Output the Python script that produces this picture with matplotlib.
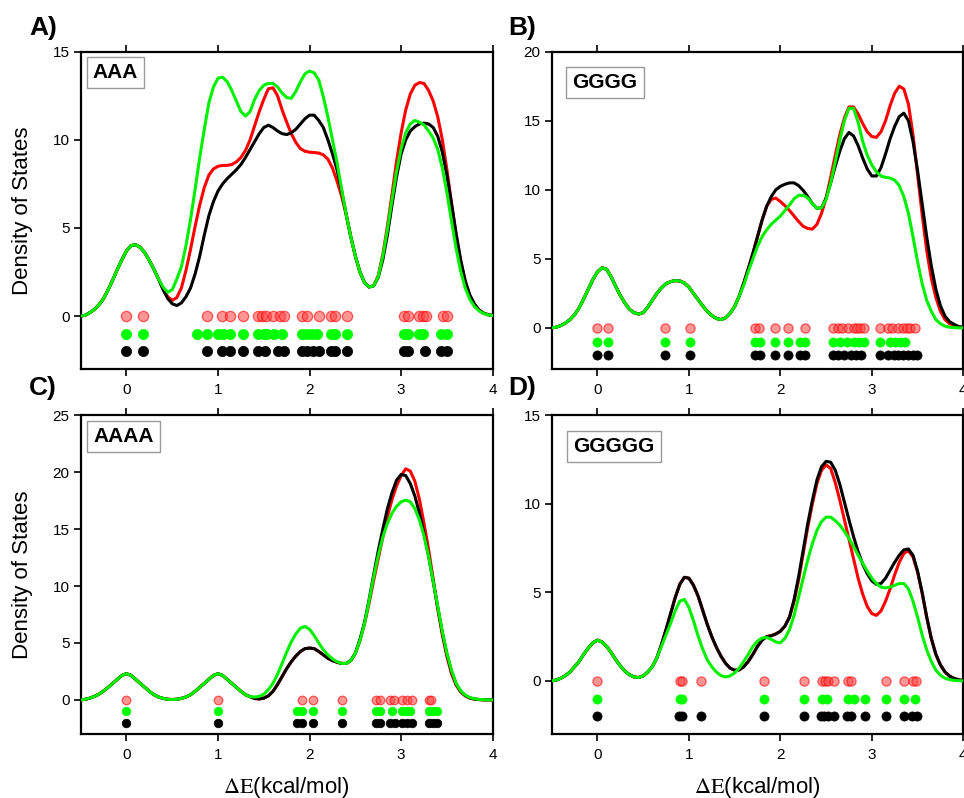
import numpy as np
import matplotlib.pyplot as plt

plt.rcParams['font.family'] = ['Liberation Sans', 'DejaVu Sans']
plt.rcParams['mathtext.fontset'] = 'stix'

# energy grid the curves were read on (kcal/mol), step 0.05
energy = np.linspace(-0.5, 4.0, 91)

# ---- A) AAA ----  (shared part -0.5 .. 0.35, then 0.4 .. 4.0)
aaa_shared = [0.0, 0.05, 0.2, 0.38, 0.65, 1.0, 1.5, 2.05, 2.65, 3.2,
              3.7, 4.0, 4.05, 3.9, 3.6, 3.15, 2.65, 2.1]
aaa_red = aaa_shared + [
    1.55, 1.1, 0.9, 1.05, 1.6, 2.6, 3.8, 5.1, 6.3, 7.3,
    8.0, 8.35, 8.5, 8.55, 8.55, 8.6, 8.75, 9.0, 9.4, 10.0,
    10.8, 11.6, 12.3, 12.9, 12.95, 12.5, 11.7, 11.0, 10.35, 9.85,
    9.5, 9.35, 9.3, 9.28, 9.25, 9.15, 8.9, 8.4, 7.65, 6.8,
    5.75, 4.5, 3.4, 2.5, 1.9, 1.65, 1.72, 2.3, 3.5, 5.1,
    6.9, 8.8, 10.4, 11.7, 12.6, 13.1, 13.25, 13.2, 12.8, 12.2,
    11.3, 10.0, 8.3, 6.4, 4.6, 3.1, 1.95, 1.15, 0.65, 0.35,
    0.17, 0.08, 0.03]
aaa_black = aaa_shared + [
    1.5, 1.0, 0.7, 0.6, 0.75, 1.1, 1.6, 2.4, 3.4, 4.6,
    5.7, 6.5, 7.1, 7.5, 7.8, 8.05, 8.3, 8.6, 9.0, 9.45,
    9.9, 10.35, 10.7, 10.83, 10.7, 10.5, 10.35, 10.3, 10.4, 10.6,
    10.9, 11.2, 11.4, 11.4, 11.1, 10.7, 10.0, 9.2, 8.3, 7.1,
    5.75, 4.5, 3.4, 2.5, 1.9, 1.65, 1.72, 2.2, 3.2, 4.6,
    6.3, 7.9, 9.2, 10.0, 10.5, 10.75, 10.9, 10.95, 10.9, 10.7,
    10.2, 9.3, 8.0, 6.4, 4.7, 3.2, 2.0, 1.2, 0.7, 0.35,
    0.17, 0.08, 0.03]
aaa_green = aaa_shared + [
    1.65, 1.35, 1.5, 2.1, 2.8, 4.0, 5.5, 7.2, 9.0, 10.6,
    12.1, 13.0, 13.5, 13.55, 13.3, 12.8, 12.2, 11.6, 11.35, 11.6,
    12.3, 12.8, 13.1, 13.2, 13.2, 13.0, 12.65, 12.4, 12.35, 12.75,
    13.3, 13.75, 13.9, 13.8, 13.4, 12.45, 11.3, 10.0, 8.7, 7.2,
    5.75, 4.5, 3.4, 2.5, 1.9, 1.65, 1.72, 2.25, 3.4, 4.9,
    6.6, 8.2, 9.5, 10.4, 10.9, 11.1, 11.0, 10.85, 10.5, 10.1,
    9.45, 8.4, 7.0, 5.4, 3.85, 2.55, 1.6, 0.95, 0.55, 0.3,
    0.15, 0.07, 0.03]
aaa_dots_red = [0.0, 0.18, 0.88, 1.04, 1.13, 1.27, 1.44, 1.48, 1.52, 1.60, 1.68, 1.72,
                1.92, 1.97, 2.10, 2.23, 2.28, 2.41, 3.03, 3.08, 3.19, 3.24, 3.27, 3.46, 3.50]
aaa_dots_green = [0.0, 0.18, 0.77, 0.88, 1.0, 1.05, 1.13, 1.27, 1.44, 1.50, 1.53, 1.61, 1.70,
                  1.92, 1.97, 2.03, 2.08, 2.23, 2.28, 2.41, 3.03, 3.08, 3.19, 3.24, 3.44, 3.50]
aaa_dots_black = [0.0, 0.18, 0.88, 1.04, 1.13, 1.27, 1.44, 1.51, 1.65, 1.72, 1.92, 1.97,
                  2.04, 2.10, 2.23, 2.28, 2.41, 3.03, 3.08, 3.26, 3.44, 3.50]

# ---- B) GGGG ----  (shared part -0.5 .. 1.55, then 1.6 .. 4.0)
gggg_shared = [0.0, 0.05, 0.17, 0.35, 0.6, 0.95, 1.45, 2.1, 2.8, 3.5,
               4.05, 4.35, 4.25, 3.7, 3.0, 2.35, 1.8, 1.35, 1.1, 1.0,
               1.1, 1.5, 2.0, 2.5, 2.9, 3.2, 3.35, 3.42, 3.4, 3.25,
               2.95, 2.5, 2.05, 1.6, 1.2, 0.9, 0.68, 0.6, 0.72, 1.05,
               1.55, 2.3]
gggg_red = gggg_shared + [
    3.25, 4.3, 5.4, 6.6, 7.8, 8.8, 9.3, 9.4, 9.15, 8.85,
    8.5, 8.1, 7.7, 7.35, 7.2, 7.15, 7.5, 8.3, 9.4, 10.9,
    12.5, 14.0, 15.2, 16.0, 16.0, 15.5, 14.8, 14.2, 13.85, 13.8,
    14.2, 15.0, 16.1, 17.0, 17.5, 17.3, 16.2, 14.0, 11.1, 8.2,
    5.6, 3.6, 2.2, 1.2, 0.6, 0.3, 0.15, 0.06, 0.02]
gggg_black = gggg_shared + [
    3.25, 4.3, 5.4, 6.6, 7.8, 8.8, 9.5, 10.0, 10.25, 10.4,
    10.5, 10.5, 10.3, 9.95, 9.5, 9.0, 8.65, 8.7, 9.4, 10.5,
    11.7, 12.8, 13.7, 14.15, 13.9, 13.2, 12.3, 11.5, 11.0, 11.0,
    11.6, 12.6, 13.7, 14.6, 15.3, 15.55, 15.0, 13.5, 11.4, 9.0,
    6.6, 4.5, 2.8, 1.6, 0.85, 0.45, 0.25, 0.1, 0.03]
gggg_green = gggg_shared + [
    3.1, 4.1, 5.0, 5.9, 6.6, 7.1, 7.5, 7.8, 8.1, 8.5,
    8.9, 9.35, 9.6, 9.6, 9.4, 9.0, 8.65, 8.7, 9.3, 10.5,
    12.0, 13.6, 15.0, 15.9, 15.9, 14.9, 13.5, 12.5, 11.8, 11.3,
    11.0, 10.9, 10.85, 10.7, 10.3, 9.5, 8.3, 6.6, 4.8, 3.2,
    2.0, 1.2, 0.6, 0.3, 0.12, 0.05, 0.02, 0.0, 0.0]
gggg_dots_red = [0.0, 0.12, 0.74, 1.01, 1.72, 1.77, 1.94, 2.08, 2.27, 2.58, 2.63, 2.67, 2.74,
                 2.80, 2.84, 2.87, 2.91, 3.09, 3.18, 3.22, 3.29, 3.34, 3.38, 3.42, 3.47]
gggg_dots_green = [0.0, 0.12, 0.74, 1.01, 1.72, 1.78, 1.94, 2.08, 2.22, 2.27, 2.58, 2.65, 2.73,
                   2.80, 2.86, 2.91, 3.09, 3.20, 3.25, 3.31, 3.36]
gggg_dots_black = [0.0, 0.12, 0.74, 1.01, 1.72, 1.78, 1.94, 2.08, 2.22, 2.27, 2.58, 2.63, 2.70,
                   2.77, 2.83, 2.88, 3.09, 3.18, 3.24, 3.29, 3.34, 3.40, 3.45, 3.49]

# ---- C) AAAA ----  (shared part -0.5 .. 1.35, then 1.4 .. 4.0)
aaaa_shared = [0.0, 0.05, 0.15, 0.3, 0.5, 0.78, 1.1, 1.45, 1.8, 2.15,
               2.3, 2.15, 1.8, 1.45, 1.1, 0.75, 0.45, 0.25, 0.13, 0.05,
               0.03, 0.05, 0.13, 0.25, 0.45, 0.75, 1.1, 1.45, 1.8, 2.15,
               2.3, 2.15, 1.8, 1.45, 1.1, 0.75, 0.45, 0.28]
aaaa_red = aaaa_shared + [
    0.12, 0.08, 0.15, 0.35, 0.75, 1.35, 2.05, 2.75, 3.35, 3.85,
    4.25, 4.5, 4.55, 4.5, 4.25, 3.95, 3.65, 3.45, 3.3, 3.2,
    3.2, 3.45, 4.1, 5.2, 6.7, 8.5, 10.5, 12.4, 14.3, 16.1,
    17.6, 18.8, 19.7, 20.3, 20.1, 19.2, 17.6, 15.5, 13.2, 10.6,
    8.0, 5.7, 3.8, 2.3, 1.3, 0.7, 0.35, 0.15, 0.06, 0.02,
    0.0, 0.0, 0.0]
aaaa_black = aaaa_shared + [
    0.12, 0.08, 0.15, 0.35, 0.75, 1.35, 2.05, 2.75, 3.35, 3.85,
    4.25, 4.5, 4.55, 4.5, 4.25, 3.95, 3.65, 3.45, 3.3, 3.2,
    3.2, 3.45, 4.1, 5.3, 6.8, 8.8, 11.0, 13.1, 15.0, 16.8,
    18.2, 19.3, 19.8, 19.7, 19.0, 17.9, 16.4, 14.6, 12.6, 10.4,
    8.1, 5.9, 4.0, 2.5, 1.4, 0.75, 0.38, 0.17, 0.07, 0.03,
    0.0, 0.0, 0.0]
aaaa_green = aaaa_shared + [
    0.25, 0.3, 0.5, 0.9, 1.45, 2.25, 3.2, 4.2, 5.1, 5.8,
    6.3, 6.45, 6.2, 5.65, 5.0, 4.4, 3.95, 3.6, 3.35, 3.2,
    3.2, 3.45, 4.1, 5.2, 6.7, 8.7, 10.8, 12.7, 14.3, 15.5,
    16.4, 17.0, 17.4, 17.55, 17.4, 16.8, 15.8, 14.4, 12.6, 10.4,
    8.2, 6.0, 4.1, 2.6, 1.45, 0.8, 0.42, 0.2, 0.1, 0.04,
    0.02, 0.0, 0.0]
aaaa_dots_red = [0.0, 0.995, 1.92, 2.04, 2.35, 2.73, 2.77, 2.88, 2.92, 3.01, 3.06, 3.12, 3.30, 3.33]
aaaa_dots_green = [0.0, 0.995, 1.86, 1.92, 2.04, 2.35, 2.73, 2.77, 2.90, 3.01, 3.05, 3.10,
                   3.30, 3.35, 3.39]
aaaa_dots_black = [0.0, 0.995, 1.86, 1.92, 2.04, 2.35, 2.73, 2.77, 2.88, 2.93, 3.01, 3.06, 3.12,
                   3.30, 3.35, 3.39]

# ---- D) GGGGG ----  (shared part -0.5 .. 0.65, then 0.7 .. 4.0)
ggggg_shared = [0.0, 0.05, 0.15, 0.3, 0.5, 0.8, 1.1, 1.5, 1.85, 2.15,
                2.3, 2.2, 1.95, 1.6, 1.2, 0.85, 0.55, 0.35, 0.22, 0.19,
                0.28, 0.5, 0.8, 1.3]
ggggg_red = ggggg_shared + [
    2.05, 2.9, 3.8, 4.7, 5.45, 5.85, 5.8, 5.4, 4.8, 4.0,
    3.2, 2.5, 1.9, 1.4, 1.0, 0.72, 0.6, 0.62, 0.8, 1.1,
    1.5, 1.95, 2.3, 2.5, 2.55, 2.65, 2.8, 3.1, 3.6, 4.5,
    5.7, 7.2, 8.7, 10.0, 11.15, 11.9, 12.2, 12.0, 11.2, 10.2,
    9.1, 8.0, 6.9, 5.8, 4.9, 4.2, 3.8, 3.7, 3.95, 4.5,
    5.2, 6.0, 6.7, 7.2, 7.35, 7.0, 6.15, 4.95, 3.6, 2.4,
    1.5, 0.9, 0.5, 0.27, 0.14, 0.06, 0.02]
ggggg_black = ggggg_shared + [
    2.05, 2.9, 3.8, 4.7, 5.45, 5.85, 5.8, 5.4, 4.8, 4.0,
    3.2, 2.5, 1.9, 1.4, 1.0, 0.72, 0.6, 0.62, 0.8, 1.1,
    1.5, 1.95, 2.3, 2.5, 2.55, 2.65, 2.8, 3.1, 3.6, 4.6,
    5.9, 7.4, 8.9, 10.2, 11.35, 12.1, 12.4, 12.35, 11.9, 11.1,
    10.1, 9.1, 8.15, 7.3, 6.6, 6.05, 5.65, 5.45, 5.5, 5.8,
    6.25, 6.7, 7.1, 7.4, 7.45, 7.1, 6.2, 5.0, 3.6, 2.4,
    1.5, 0.9, 0.5, 0.27, 0.14, 0.06, 0.02]
ggggg_green = ggggg_shared + [
    1.95, 2.6, 3.25, 3.95, 4.5, 4.6, 4.15, 3.4, 2.55, 1.8,
    1.2, 0.8, 0.5, 0.3, 0.22, 0.28, 0.45, 0.72, 1.1, 1.5,
    1.95, 2.25, 2.42, 2.45, 2.35, 2.2, 2.15, 2.4, 2.9, 3.7,
    4.75, 5.8, 6.85, 7.75, 8.5, 9.0, 9.25, 9.25, 9.05, 8.8,
    8.45, 8.05, 7.6, 7.1, 6.65, 6.2, 5.8, 5.5, 5.3, 5.25,
    5.3, 5.4, 5.5, 5.5, 5.2, 4.5, 3.6, 2.6, 1.75, 1.1,
    0.6, 0.32, 0.15, 0.07, 0.03, 0.01, 0.0]
ggggg_dots_red = [0.0, 0.90, 0.93, 1.13, 1.82, 2.26, 2.45, 2.49, 2.52, 2.59, 2.74, 2.77,
                  3.16, 3.35, 3.45, 3.48]
ggggg_dots_green = [0.0, 0.90, 0.93, 1.82, 2.26, 2.45, 2.51, 2.74, 2.81, 2.92, 3.16, 3.35, 3.47]
ggggg_dots_black = [0.0, 0.89, 0.93, 1.13, 1.82, 2.26, 2.44, 2.48, 2.52, 2.59, 2.73, 2.77, 2.92,
                    3.16, 3.35, 3.44, 3.49]

panels = [
    dict(letter='A)', name='AAA', ymax=15, yticks=[0, 5, 10, 15], ms=7.4,
         curves=(aaa_red, aaa_black, aaa_green),
         dots=(aaa_dots_red, aaa_dots_green, aaa_dots_black),
         rect=[80.7, 51.7, 412, 317.3], box=(0.0845, 0.934)),
    dict(letter='B)', name='GGGG', ymax=20, yticks=[0, 5, 10, 15, 20], ms=6.6,
         curves=(gggg_red, gggg_black, gggg_green),
         dots=(gggg_dots_red, gggg_dots_green, gggg_dots_black),
         rect=[551.7, 51.7, 411.6, 317.6], box=(0.1295, 0.903)),
    dict(letter='C)', name='AAAA', ymax=25, yticks=[0, 5, 10, 15, 20, 25], ms=6.2,
         curves=(aaaa_red, aaaa_black, aaaa_green),
         dots=(aaaa_dots_red, aaaa_dots_green, aaaa_dots_black),
         rect=[80.7, 415.3, 412, 318.7], box=(0.104, 0.933)),
    dict(letter='D)', name='GGGGG', ymax=15, yticks=[0, 5, 10, 15], ms=6.6,
         curves=(ggggg_red, ggggg_black, ggggg_green),
         dots=(ggggg_dots_red, ggggg_dots_green, ggggg_dots_black),
         rect=[551.7, 415.3, 411.6, 318.7], box=(0.151, 0.902)),
]

for p in panels:
    for c in p['curves']:
        assert len(c) == len(energy), (p['name'], len(c))

W, H = 964, 798
fig = plt.figure(figsize=(W / 100, H / 100), dpi=100)

red = '#ff0000'
green = '#00f000'

for i, p in enumerate(panels):
    x0, y0, w, h = p['rect']
    ax = fig.add_axes([x0 / W, 1 - (y0 + h) / H, w / W, h / H])

    r, k, g = p['curves']
    ax.plot(energy, r, color=red, lw=2.2, zorder=3)
    ax.plot(energy, k, color='black', lw=2.2, zorder=4)
    ax.plot(energy, g, color=green, lw=2.2, zorder=5)

    dr, dg, dk = p['dots']
    ax.plot(dr, np.zeros(len(dr)), 'o', ms=p['ms'], mfc=(1, 0.25, 0.25, 0.55),
            mec=(1, 0, 0, 0.6), mew=0.9, zorder=6)
    ax.plot(dg, np.full(len(dg), -1.0), 'o', ms=p['ms'], mfc='#00ff00', mec='#00ff00',
            mew=0.5, zorder=6)
    ax.plot(dk, np.full(len(dk), -2.0), 'o', ms=p['ms'], mfc='black', mec='black',
            mew=0.5, zorder=6)

    ax.set_xlim(-0.5, 4)
    ax.set_ylim(-3, p['ymax'])
    ax.set_xticks([0, 1, 2, 3, 4])
    ax.set_yticks(p['yticks'])
    ax.tick_params(direction='out', length=5, width=1.2, top=True, right=False,
                   labelsize=11, pad=3)
    ax.tick_params(axis='x', pad=5)
    for s in ax.spines.values():
        s.set_linewidth(1.6)

    ax.text(p['box'][0], p['box'][1], p['name'], transform=ax.transAxes,
            ha='center', va='center', fontsize=15, fontweight='bold',
            bbox=dict(boxstyle='square,pad=0.3', fc='white', ec='#999999', lw=1.0),
            zorder=7)

    lx = 29 if i % 2 == 0 else 508
    ly = 28 if i < 2 else 388
    fig.text(lx / W, 1 - ly / H, p['letter'], fontsize=19, fontweight='bold',
             ha='left', va='center')

    if i % 2 == 0:
        fig.text(23 / W, 1 - (y0 + h / 2) / H, 'Density of States', rotation=90,
                 ha='center', va='center', fontsize=16)
    if i >= 2:
        fig.text((x0 + w / 2) / W, 1 - 787 / H, r'$\Delta\mathrm{E}$(kcal/mol)',
                 ha='center', va='center', fontsize=16)

fig.savefig('out.png', dpi=100)
